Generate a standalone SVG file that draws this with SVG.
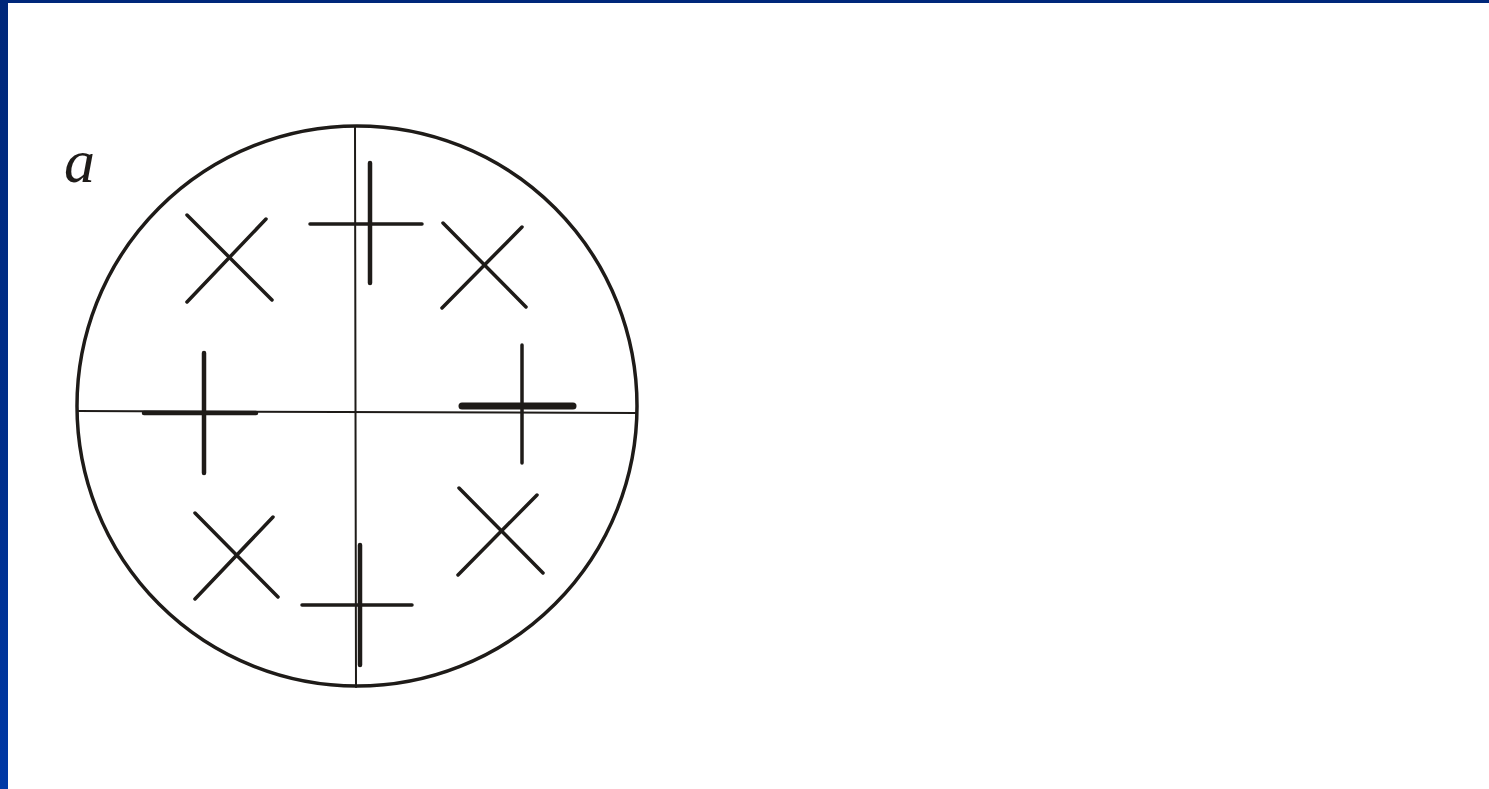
<svg xmlns="http://www.w3.org/2000/svg" width="1489" height="789" viewBox="0 0 1489 789">
  <defs>
    <linearGradient id="bar" x1="0" y1="0" x2="0" y2="1">
      <stop offset="0" stop-color="#00287a"/>
      <stop offset="0.6" stop-color="#002f8c"/>
      <stop offset="1" stop-color="#0039a6"/>
    </linearGradient>
  </defs>
  <style>
    .ink { stroke: #1e1b18; fill: none; stroke-linecap: round; }
    .thin { stroke-width: 2; }
    .mid { stroke-width: 3.5; }
    .thick { stroke-width: 4.5; }
    .heavy { stroke-width: 7; }
    .lbl { font-family: "Liberation Serif", "DejaVu Serif", serif; font-style: italic; font-size: 62px; fill: #1e1b18; }
  </style>
  <rect x="0" y="0" width="1489" height="789" fill="#ffffff"/>
  <rect x="0" y="0" width="1489" height="3" fill="#00287a"/>
  <rect x="0" y="0" width="8" height="789" fill="url(#bar)"/>

  <text class="lbl" x="64" y="182">a</text>

  <g id="frame">
    <circle class="ink mid" cx="357" cy="406" r="280"/>
    <line class="ink thin" x1="78" y1="411" x2="637" y2="413"/>
    <line class="ink thin" x1="355" y1="126" x2="356" y2="687"/>
  </g>

  <g id="x-top-left">
    <line class="ink mid" x1="187" y1="215" x2="272" y2="300"/>
    <line class="ink mid" x1="266" y1="219" x2="187" y2="302"/>
  </g>
  <g id="plus-top">
    <line class="ink mid" x1="310" y1="224" x2="422" y2="224"/>
    <line class="ink thick" x1="370" y1="163" x2="370" y2="283"/>
  </g>
  <g id="x-top-right">
    <line class="ink mid" x1="443" y1="223" x2="526" y2="307"/>
    <line class="ink mid" x1="522" y1="227" x2="442" y2="308"/>
  </g>
  <g id="plus-right">
    <line class="ink mid" x1="522" y1="345" x2="522" y2="463"/>
    <line class="ink heavy" x1="462" y1="406" x2="573" y2="406"/>
  </g>
  <g id="plus-left">
    <line class="ink thick" x1="204" y1="353" x2="204" y2="473"/>
    <line class="ink thick" x1="144" y1="413" x2="256" y2="413"/>
  </g>
  <g id="x-bottom-left">
    <line class="ink mid" x1="195" y1="513" x2="278" y2="597"/>
    <line class="ink mid" x1="273" y1="517" x2="195" y2="599"/>
  </g>
  <g id="plus-bottom">
    <line class="ink thick" x1="360" y1="545" x2="360" y2="665"/>
    <line class="ink mid" x1="302" y1="605" x2="412" y2="605"/>
  </g>
  <g id="x-bottom-right">
    <line class="ink mid" x1="459" y1="488" x2="543" y2="573"/>
    <line class="ink mid" x1="537" y1="495" x2="458" y2="575"/>
  </g>
  <g id="connectors"/>
</svg>
